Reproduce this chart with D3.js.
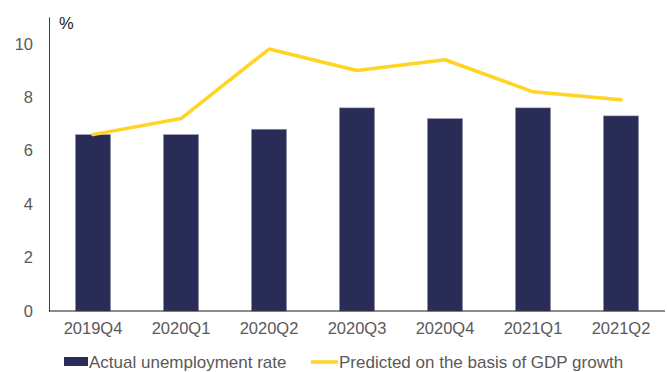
<!DOCTYPE html>
<html>
<head>
<meta charset="utf-8">
<script src="https://cdn.jsdelivr.net/npm/d3@7"></script>
<style>
  body { margin: 0; background: #fff; }
  svg { display: block; font-family: "Liberation Sans", Arial, sans-serif; }
</style>
</head>
<body>
<svg id="chart" width="667" height="372"></svg>
<script>
const quarters = ['2019Q4', '2020Q1', '2020Q2', '2020Q3', '2020Q4', '2021Q1', '2021Q2'];
const actualRate = [6.6, 6.6, 6.8, 7.6, 7.2, 7.6, 7.3];
const predictedRate = [6.6, 7.2, 9.8, 9.0, 9.4, 8.2, 7.9];
const yTicks = [0, 2, 4, 6, 8, 10];
const seriesNames = ['Actual unemployment rate', 'Predicted on the basis of GDP growth'];

const WIDTH = 667;
const HEIGHT = 372;
const PADDING_LEFT = 49;
const PADDING_RIGHT = 2;
const PADDING_TOP = 17;
const PADDING_BOTTOM = 61;
const FONT_SIZE = 16.5;
const FONT_SIZE_LEGEND = 17;

const COLOR_BAR = '#2a2c58';
const COLOR_LINE = '#ffd422';
const COLOR_TEXT = '#595959';

const svg = d3.select('#chart');
const g = svg.append('g');

const x = d3.scaleBand()
    .domain(quarters)
    .range([PADDING_LEFT, WIDTH - PADDING_RIGHT])
    .paddingInner(0.6)
    .paddingOuter(0.3);

const y = d3.scaleLinear()
    .domain([0, 11])
    .range([HEIGHT - PADDING_BOTTOM, PADDING_TOP]);

// bars
g.selectAll('rect.bar')
    .data(quarters)
    .join('rect')
    .attr('class', 'bar')
    .attr('x', d => x(d))
    .attr('width', x.bandwidth())
    .attr('y', (d, i) => y(actualRate[i]))
    .attr('height', (d, i) => y(0) - y(actualRate[i]))
    .attr('fill', COLOR_BAR)
    .attr('stroke', '#9a9bb3')
    .attr('stroke-width', 0.6);

// line
const line = d3.line()
    .x((d, i) => x(quarters[i]) + x.bandwidth() / 2)
    .y(d => y(d));

g.append('path')
    .attr('d', line(predictedRate))
    .attr('fill', 'none')
    .attr('stroke', COLOR_LINE)
    .attr('stroke-width', 3.5)
    .attr('stroke-linecap', 'round')
    .attr('stroke-linejoin', 'round');

// y axis
const yAxis = g.append('g')
    .attr('transform', `translate(${PADDING_LEFT},0)`)
    .call(d3.axisLeft(y).tickValues(yTicks).tickSize(0).tickPadding(16));
yAxis.select('.domain').attr('stroke', '#3c3c3c').attr('stroke-width', 1);
yAxis.selectAll('text')
    .attr('fill', COLOR_TEXT)
    .attr('font-size', FONT_SIZE)
    .attr('font-family', '"Liberation Sans", Arial, sans-serif');

// x axis
const xAxis = g.append('g')
    .attr('transform', `translate(0,${y(0)})`)
    .call(d3.axisBottom(x).tickSize(0).tickPadding(11));
xAxis.select('.domain').attr('stroke', '#1a1a1a').attr('stroke-width', 1.2)
    .attr('d', `M${PADDING_LEFT},0H${WIDTH - PADDING_RIGHT}`);
xAxis.selectAll('text')
    .attr('fill', COLOR_TEXT)
    .attr('font-size', FONT_SIZE)
    .attr('font-family', '"Liberation Sans", Arial, sans-serif');

// unit label
g.append('text')
    .text('%')
    .attr('x', 59)
    .attr('y', 29)
    .attr('fill', '#1a1a1a')
    .attr('font-size', FONT_SIZE);

// legend
const legend = g.append('g');
legend.append('rect')
    .attr('x', 64).attr('y', 357)
    .attr('width', 24).attr('height', 9)
    .attr('fill', COLOR_BAR);
legend.append('text')
    .text(seriesNames[0])
    .attr('x', 89).attr('y', 368)
    .attr('fill', COLOR_TEXT)
    .attr('font-size', FONT_SIZE_LEGEND);
legend.append('line')
    .attr('x1', 311).attr('x2', 338)
    .attr('y1', 362).attr('y2', 362)
    .attr('stroke', COLOR_LINE)
    .attr('stroke-width', 3.5);
legend.append('text')
    .text(seriesNames[1])
    .attr('x', 339).attr('y', 368)
    .attr('fill', COLOR_TEXT)
    .attr('font-size', FONT_SIZE_LEGEND);
</script>
</body>
</html>
